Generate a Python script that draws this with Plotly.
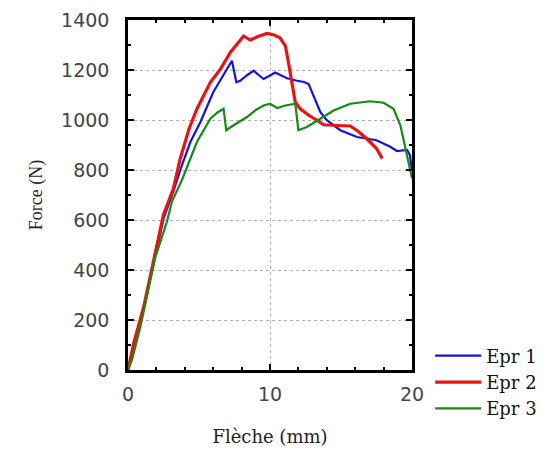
import plotly.graph_objects as go

# Epr 1 (blue)
x1 = [0, 0.4, 1.1, 1.8, 2.5, 3.2, 3.8, 4.4, 5.1, 6.0, 6.6, 7.0, 7.32, 7.63, 7.9, 8.4, 8.85, 9.2, 9.55, 10.0, 10.37, 10.8, 11.2, 11.9, 12.4, 12.72, 13.07, 13.54, 14.0, 14.95, 16.13, 17.5, 18.47, 18.94, 19.65, 19.85, 20.0]
y1 = [0, 100, 245, 425, 605, 715, 820, 913, 992, 1111, 1170, 1205, 1237, 1151, 1157, 1180, 1197, 1180, 1164, 1178, 1190, 1178, 1167, 1157, 1152, 1144, 1098, 1032, 999, 959, 932, 919, 893, 876, 880, 860, 800]

# Epr 2 (red)
x2 = [0, 0.4, 1.1, 1.8, 2.5, 2.86, 3.2, 3.68, 4.3, 4.86, 5.8, 6.5, 7.2, 7.7, 8.14, 8.6, 9.2, 9.79, 10.3, 10.7, 11.08, 11.3, 11.55, 11.78, 12.13, 12.7, 13.3, 13.77, 14.7, 15.65, 16.2, 16.8, 17.5, 17.9]
y2 = [0, 106, 251, 436, 622, 675, 727, 846, 965, 1045, 1151, 1203, 1270, 1305, 1336, 1320, 1335, 1346, 1340, 1329, 1297, 1230, 1139, 1071, 1045, 1020, 999, 981, 978, 976, 955, 926, 886, 846]

# Epr 3 (green)
x3 = [0, 0.28, 0.87, 1.92, 2.75, 3.1, 3.8, 4.86, 5.8, 6.3, 6.73, 6.92, 7.44, 8.38, 9.0, 9.55, 10.0, 10.5, 11.08, 11.78, 12.0, 12.6, 13.54, 14.48, 15.65, 17.06, 18.0, 18.7, 19.18, 19.53, 20.0]
y3 = [0, 40, 172, 450, 595, 675, 760, 913, 1005, 1030, 1045, 959, 979, 1012, 1040, 1058, 1065, 1048, 1058, 1065, 959, 972, 1005, 1038, 1065, 1075, 1069, 1045, 979, 886, 767]

names = ["Epr 1", "Epr 2", "Epr 3"]
colors = ["#1414d8", "#e61414", "#168a16"]
widths = [2.2, 3.2, 2.2]

fig = go.Figure()
for xs, ys, n, c, w in zip([x1, x2, x3], [y1, y2, y3], names, colors, widths):
    fig.add_trace(go.Scatter(x=xs, y=ys, mode="lines", name=n,
                             line=dict(color=c, width=w)))

axis_common = dict(
    showline=True, linecolor="black", linewidth=2.5, mirror="ticks",
    ticks="inside", ticklen=6, tickcolor="black", tickwidth=2,
    showgrid=True, gridcolor="#b0b0b0", griddash="dot", gridwidth=1,
    zeroline=False, automargin=False, ticklabeloverflow="allow",
    tickfont=dict(family="DejaVu Sans", size=19, color="#444444"),
)

fig.update_xaxes(range=[0, 20], tick0=0, dtick=10,
                 minor=dict(ticks="inside", dtick=2, ticklen=3, tickcolor="black", tickwidth=2, showgrid=False),
                 title=dict(text="Flèche (mm)", font=dict(family="DejaVu Serif", size=18, color="#222"), standoff=27),
                 ticklabelstandoff=5,
                 **axis_common)
fig.update_yaxes(range=[0, 1400], tick0=0, dtick=200,
                 minor=dict(ticks="inside", dtick=100, ticklen=3, tickcolor="black", tickwidth=2, showgrid=False),
                 title=dict(text="Force (N)", font=dict(family="Liberation Serif", size=18, color="#222"), standoff=14),
                 ticklabelstandoff=12,
                 **axis_common)

fig.update_layout(
    width=547, height=444,
    margin=dict(l=120, r=143, t=12, b=82, autoexpand=False),
    paper_bgcolor="white", plot_bgcolor="white",
    showlegend=True,
    legend=dict(x=1.064, y=0.093, xanchor="left", yanchor="top",
                font=dict(family="DejaVu Serif", size=18, color="#111"),
                itemwidth=46,
                bgcolor="rgba(0,0,0,0)", tracegroupgap=0),
)

fig.write_html("out.html")
